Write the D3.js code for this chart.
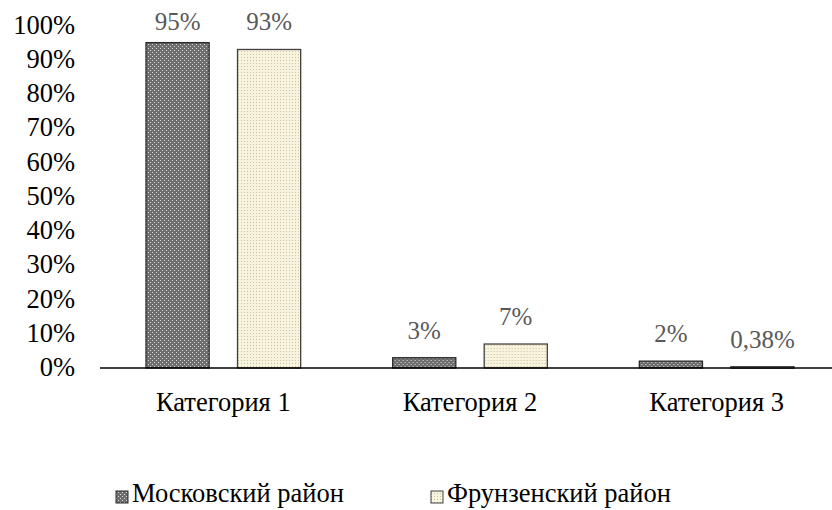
<!DOCTYPE html>
<html>
<head>
<meta charset="utf-8">
<script src="https://cdn.jsdelivr.net/npm/d3@7"></script>
<style>
  body { margin: 0; background: #fff; }
</style>
</head>
<body>
<div id="chart"></div>
<script>
// data
var categories = ["Категория 1", "Категория 2", "Категория 3"];
var seriesNames = ["Московский район", "Фрунзенский район"];
var moscow = [95, 3, 2];
var frunze = [93, 7, 0.38];
var valueLabels = [["95%", "3%", "2%"], ["93%", "7%", "0,38%"]];
var yTicks = [0, 10, 20, 30, 40, 50, 60, 70, 80, 90, 100];

var width = 832, height = 510;
var serif = "'Liberation Serif'";
var bigFont = "26.5px";

var svg = d3.select("#chart")
    .append("svg")
    .attr("width", width)
    .attr("height", height);

// patterns for the two series
var defs = svg.append("defs");

var p1 = defs.append("pattern")
    .attr("id", "patMoscow")
    .attr("width", 4).attr("height", 4)
    .attr("patternUnits", "userSpaceOnUse");
p1.append("rect").attr("width", 4).attr("height", 4).attr("fill", "#6e6e6e");
p1.append("rect").attr("x", 0).attr("y", 0).attr("width", 1).attr("height", 1).attr("fill", "#d8d8d8");
p1.append("rect").attr("x", 2).attr("y", 2).attr("width", 1).attr("height", 1).attr("fill", "#d8d8d8");

var p2 = defs.append("pattern")
    .attr("id", "patFrunze")
    .attr("width", 3).attr("height", 3)
    .attr("patternUnits", "userSpaceOnUse");
p2.append("rect").attr("width", 3).attr("height", 3).attr("fill", "#f7f3dc");
p2.append("rect").attr("x", 0).attr("y", 0).attr("width", 1).attr("height", 1).attr("fill", "#c9c2a0");

var fills = ["url(#patMoscow)", "url(#patFrunze)"];
var strokes = ["#2b2b2b", "#404040"];

var x0 = d3.scaleBand()
    .domain(categories)
    .range([100, 840])
    .paddingInner(0)
    .paddingOuter(0);

var x1 = d3.scaleBand()
    .domain([0, 1])
    .range([46, x0.bandwidth() - 46])
    .paddingInner(0.31);

var y = d3.scaleLinear()
    .domain([0, 100])
    .range([368, 25.5]);

// y tick labels
svg.append("g")
    .selectAll("text")
    .data(yTicks)
    .enter()
    .append("text")
    .attr("x", 75)
    .attr("y", function(d) { return y(d) + 8; })
    .attr("text-anchor", "end")
    .style("font-family", serif)
    .style("font-size", bigFont)
    .style("fill", "#000")
    .text(function(d) { return d + "%"; });

var series = [moscow, frunze];

var groups = svg.selectAll("g.cat")
    .data(categories)
    .enter()
    .append("g")
    .attr("class", "cat")
    .attr("transform", function(d) { return "translate(" + x0(d) + ",0)"; });

groups.selectAll("rect")
    .data(function(d, i) { return series.map(function(s, k) { return { k: k, v: s[i] }; }); })
    .enter()
    .append("rect")
    .attr("x", function(d) { return x1(d.k); })
    .attr("y", function(d) { return y(d.v); })
    .attr("width", x1.bandwidth())
    .attr("height", function(d) { return Math.max(y(0) - y(d.v), 1.5); })
    .attr("fill", function(d) { return fills[d.k]; })
    .attr("stroke", function(d) { return strokes[d.k]; })
    .attr("stroke-width", 1.3);

groups.selectAll("text.val")
    .data(function(d, i) { return series.map(function(s, k) { return { k: k, v: s[i], label: valueLabels[k][i] }; }); })
    .enter()
    .append("text")
    .attr("class", "val")
    .attr("x", function(d) { return x1(d.k) + x1.bandwidth() / 2; })
    .attr("y", function(d) { return Math.max(y(d.v) - 19, 30); })
    .attr("text-anchor", "middle")
    .style("font-family", serif)
    .style("font-size", "25px")
    .style("fill", "#595959")
    .text(function(d) { return d.label; });

// x axis line
svg.append("line")
    .attr("x1", 100).attr("x2", width)
    .attr("y1", y(0)).attr("y2", y(0))
    .style("stroke", "#000")
    .style("stroke-width", 1.5);

// category labels
svg.append("g")
    .selectAll("text")
    .data(categories)
    .enter()
    .append("text")
    .attr("x", function(d) { return x0(d) + x0.bandwidth() / 2; })
    .attr("y", 411)
    .attr("text-anchor", "middle")
    .style("font-family", serif)
    .style("font-size", bigFont)
    .style("fill", "#000")
    .text(function(d) { return d; });

// legend
var legendX = [116, 431];
var legend = svg.selectAll("g.legend")
    .data(seriesNames)
    .enter()
    .append("g")
    .attr("class", "legend")
    .attr("transform", function(d, i) { return "translate(" + legendX[i] + ",502)"; });

legend.append("rect")
    .attr("x", 0).attr("y", -11)
    .attr("width", 12).attr("height", 12)
    .attr("fill", function(d, i) { return fills[i]; })
    .attr("stroke", function(d, i) { return strokes[i]; })
    .attr("stroke-width", 1);

legend.append("text")
    .attr("x", 16)
    .attr("y", 0)
    .style("font-family", serif)
    .style("font-size", bigFont)
    .style("fill", "#000")
    .text(function(d) { return d; });
</script>
</body>
</html>
